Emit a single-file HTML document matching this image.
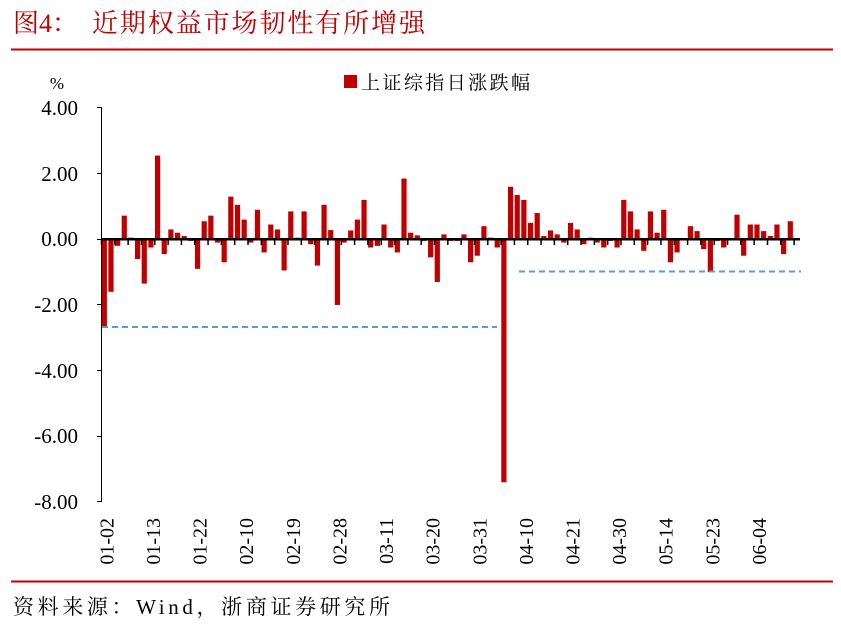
<!DOCTYPE html>
<html><head><meta charset="utf-8"><style>
body{margin:0;background:#fff;}
svg text{font-family:"Liberation Serif","Noto Serif CJK SC",serif;}
</style></head><body>
<svg width="841" height="633" xmlns="http://www.w3.org/2000/svg">
<text x="13" y="32" font-size="26" fill="#c00000">图4：</text>
<text x="92" y="32" font-size="26" fill="#c00000" textLength="333">近期权益市场韧性有所增强</text>
<line x1="11" y1="49.5" x2="833" y2="49.5" stroke="#c00000" stroke-width="2"/>
<text x="57" y="89" font-size="17" text-anchor="middle">%</text>
<rect x="344" y="75" width="13" height="13" fill="#c00000"/>
<text x="361" y="89" font-size="19" textLength="169" font-family="Liberation Sans,Noto Sans CJK SC,sans-serif">上证综指日涨跌幅</text>
<g font-size="21" text-anchor="end">
<text x="78" y="115">4.00</text>
<text x="78" y="181">2.00</text>
<text x="78" y="246">0.00</text>
<text x="78" y="312">-2.00</text>
<text x="78" y="378">-4.00</text>
<text x="78" y="443">-6.00</text>
<text x="78" y="509">-8.00</text>
</g>
<line x1="101.5" y1="107" x2="101.5" y2="502" stroke="#000" stroke-width="1"/>
<g stroke="#000"><line x1="97" y1="107.5" x2="101" y2="107.5"/><line x1="97" y1="173.5" x2="101" y2="173.5"/><line x1="97" y1="239.5" x2="101" y2="239.5"/><line x1="97" y1="304.5" x2="101" y2="304.5"/><line x1="97" y1="370.5" x2="101" y2="370.5"/><line x1="97" y1="436.5" x2="101" y2="436.5"/><line x1="97" y1="501.5" x2="101" y2="501.5"/></g>
<g id="bars" fill="#c00000"></g>
<line x1="101" y1="239.3" x2="800" y2="239.3" stroke="#000" stroke-width="2.5"/>
<g id="ticks" stroke="#000" stroke-width="1.5"></g>
<line x1="102" y1="327" x2="497" y2="327" stroke="#5b9bd5" stroke-width="2" stroke-dasharray="6,4"/>
<line x1="519" y1="271.5" x2="801" y2="271.5" stroke="#5b9bd5" stroke-width="2" stroke-dasharray="6,4"/>
<g id="labels" font-size="20"></g>
<line x1="11" y1="581.5" x2="833" y2="581.5" stroke="#c00000" stroke-width="2"/>
<text x="13" y="614" font-size="21" textLength="377">资料来源：Wind，浙商证券研究所</text>
<script>
var v=[-2.7,-1.6,-0.2,0.72,0.05,-0.6,-1.35,-0.25,2.55,-0.45,0.3,0.2,0.1,-0.05,-0.9,0.55,0.72,-0.1,-0.7,1.3,1.05,0.6,-0.1,0.9,-0.4,0.45,0.3,-0.95,0.85,0.05,0.85,-0.15,-0.8,1.05,0.28,-2.0,
-0.1,0.27,0.6,1.2,-0.25,-0.2,0.45,-0.25,-0.4,1.85,0.2,0.12,-0.05,-0.55,-1.3,0.15,-0.05,-0.05,0.15,-0.7,-0.5,0.4,0.05,-0.25,-7.4,1.6,1.35,1.2,0.5,0.8,0.1,0.27,0.15,-0.1,0.5,0.3,-0.15,0.05,-0.1,-0.25,-0.05,-0.25,1.2,0.85,0.3,-0.35,0.85,0.2,0.9,-0.7,-0.4,0.02,0.4,0.25,-0.3,-1.0,-0.05,-0.25,0.02,0.75,-0.5,0.45,0.45,0.25,0.1,0.45,-0.45,0.55,0.02];
var ns="http://www.w3.org/2000/svg",b=document.getElementById("bars"),t=document.getElementById("ticks"),L=document.getElementById("labels");
var z=239.3,s=32.83,p=6.66,x0=104.3;
v.forEach(function(d,i){var r=document.createElementNS(ns,"rect");var cx=x0+i*p;var y=z-d*s;r.setAttribute("x",cx-2.6);r.setAttribute("width",5.2);r.setAttribute("y",Math.min(y,z));r.setAttribute("height",Math.max(Math.abs(d*s),1));b.appendChild(r);});
for(var i=0;i<=52;i++){var x=101.5+i*2*p;var l=document.createElementNS(ns,"line");l.setAttribute("x1",x);l.setAttribute("x2",x);l.setAttribute("y1",239);l.setAttribute("y2",245);t.appendChild(l);}
var lab=["01-02","01-13","01-22","02-10","02-19","02-28","03-11","03-20","03-31","04-10","04-21","04-30","05-14","05-23","06-04"];
lab.forEach(function(s2,k){var x=x0+k*7*p+9;var e=document.createElementNS(ns,"text");e.setAttribute("transform","translate("+x+",518) rotate(-90)");e.setAttribute("text-anchor","end");e.textContent=s2;L.appendChild(e);});
</script>
</svg>
</body></html>
